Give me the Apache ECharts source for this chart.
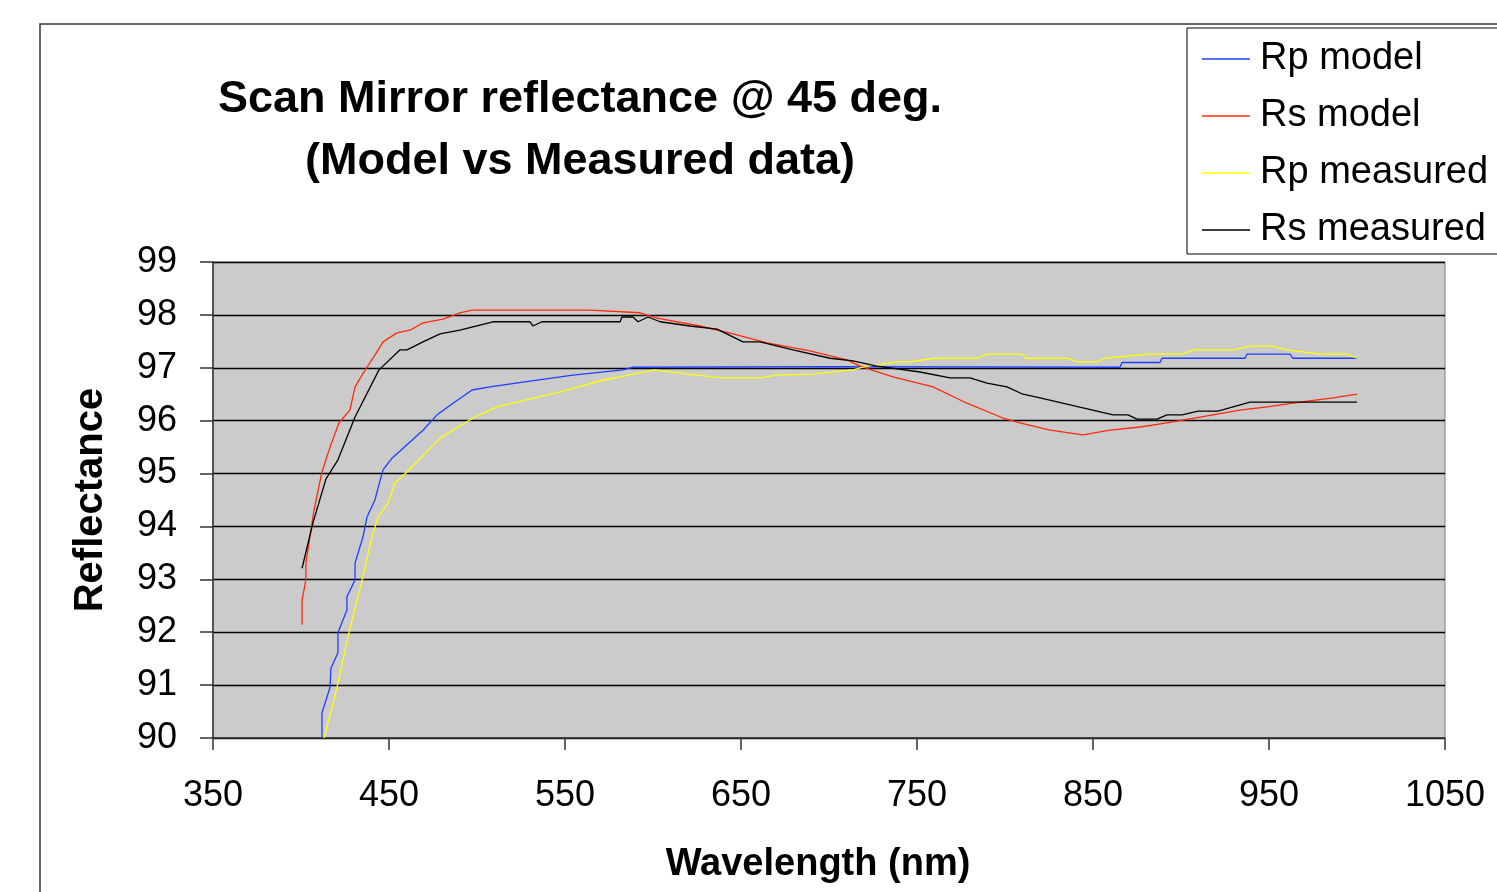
<!DOCTYPE html>
<html>
<head>
<meta charset="utf-8">
<script src="https://cdn.jsdelivr.net/npm/echarts@6/dist/echarts.min.js"></script>
<style>
  html, body { margin: 0; padding: 0; background: #fff; }
  #main { width: 1497px; height: 892px; }
</style>
</head>
<body>
<div id="main"></div>
<script>
// wavelength (nm) / reflectance (%)
var rpModelNm = [411.9, 411.9, 416.5, 417.0, 421.0, 421.0, 426.1, 426.1, 430.7, 430.7, 435.2, 437.5, 442.0, 443.8, 446.6, 451.7, 469.3, 477.3, 486.4, 497.2, 507.4, 526.1, 554.5, 583.0, 588.6, 700.0, 865.3, 866.5, 888.1, 889.2, 936.4, 937.5, 961.9, 963.6, 1000];
var rpModelR  = [90.0, 90.47, 90.96, 91.32, 91.61, 91.99, 92.42, 92.67, 92.99, 93.31, 93.80, 94.18, 94.50, 94.73, 95.07, 95.29, 95.82, 96.11, 96.33, 96.58, 96.64, 96.73, 96.86, 96.96, 97.01, 97.02, 97.01, 97.10, 97.10, 97.18, 97.18, 97.26, 97.26, 97.18, 97.18];

var rsModelNm = [400.6, 400.6, 402.8, 402.8, 407.4, 411.9, 416.5, 421.6, 427.8, 430.7, 434.7, 437.5, 442.0, 446.6, 454.5, 461.9, 469.3, 480.7, 490.3, 497.2, 564.2, 592.6, 602.3, 626.7, 645.5, 664.8, 689.2, 710.2, 717.6, 736.4, 759.1, 778.4, 798.9, 808.5, 825.6, 844.3, 859.7, 876.7, 892.0, 918.2, 933.5, 948.9, 967.6, 986.4, 1000];
var rsModelR  = [92.14, 92.61, 92.99, 93.31, 94.31, 95.03, 95.50, 95.96, 96.20, 96.64, 96.86, 97.01, 97.24, 97.49, 97.66, 97.71, 97.85, 97.92, 98.04, 98.09, 98.09, 98.04, 97.94, 97.79, 97.64, 97.47, 97.32, 97.15, 97.03, 96.83, 96.64, 96.33, 96.05, 95.96, 95.82, 95.73, 95.82, 95.88, 95.96, 96.11, 96.20, 96.26, 96.35, 96.43, 96.50];

var rpMeasNm = [413.1, 420.5, 426.7, 434.7, 440.3, 443.8, 449.4, 453.4, 460.2, 479.0, 497.7, 507.4, 511.4, 548.9, 569.9, 588.6, 601.1, 619.3, 639.8, 660.8, 670.5, 690.9, 713.6, 721.6, 738.6, 746.0, 759.1, 784.1, 789.8, 810.2, 811.4, 835.8, 840.9, 852.3, 856.8, 880.7, 900.6, 906.8, 929.5, 939.2, 951.7, 960.2, 979.0, 994.3, 1000];
var rpMeasR  = [90.0, 90.96, 91.91, 92.99, 93.80, 94.18, 94.44, 94.82, 95.03, 95.67, 96.05, 96.20, 96.26, 96.56, 96.75, 96.88, 96.96, 96.88, 96.81, 96.81, 96.86, 96.88, 96.96, 97.03, 97.11, 97.11, 97.18, 97.18, 97.26, 97.26, 97.18, 97.18, 97.11, 97.11, 97.18, 97.26, 97.26, 97.34, 97.34, 97.41, 97.41, 97.34, 97.26, 97.26, 97.18];

var rsMeasNm = [400.6, 406.8, 414.2, 421.0, 430.7, 444.3, 456.3, 460.2, 469.3, 479.0, 490.3, 509.1, 530.1, 531.8, 536.9, 581.3, 582.4, 588.6, 591.5, 597.2, 604.0, 621.0, 636.4, 651.1, 660.8, 679.5, 700.6, 713.6, 727.3, 751.7, 768.8, 780.1, 789.8, 801.1, 810.2, 819.9, 861.4, 869.9, 875.0, 886.4, 892.0, 900.6, 909.7, 921.0, 939.2, 1000];
var rsMeasR  = [93.21, 94.07, 94.90, 95.26, 96.07, 96.96, 97.34, 97.34, 97.49, 97.64, 97.71, 97.87, 97.87, 97.79, 97.87, 97.87, 97.96, 97.96, 97.87, 97.96, 97.87, 97.79, 97.73, 97.49, 97.49, 97.34, 97.18, 97.13, 97.03, 96.92, 96.81, 96.81, 96.71, 96.64, 96.50, 96.43, 96.11, 96.11, 96.03, 96.03, 96.11, 96.11, 96.18, 96.18, 96.35, 96.35];

function pairs(xs, ys) {
  return xs.map(function (x, i) { return [x, ys[i]]; });
}

var font = 'Liberation Sans, Arial, sans-serif';
var chart = echarts.init(document.getElementById('main'));

function lineSeries(name, xs, ys, color) {
  return {
    name: name,
    type: 'line',
    data: pairs(xs, ys),
    symbol: 'none',
    animation: false,
    lineStyle: { color: color, width: 1.3 },
    itemStyle: { color: color }
  };
}

var option = {
  backgroundColor: '#fff',
  textStyle: { fontFamily: font },
  title: {
    text: 'Scan Mirror reflectance @ 45 deg.\n(Model vs Measured data)',
    left: 575,
    top: 64,
    textAlign: 'center',
    textStyle: { fontSize: 45, fontWeight: 'bold', color: '#000', lineHeight: 62, fontFamily: font }
  },
  legend: {
    orient: 'vertical',
    left: 1187,
    top: 28,
    padding: [12, 30, 5, 15],
    itemGap: 19,
    itemWidth: 48,
    itemHeight: 1.5,
    icon: 'rect',
    borderColor: '#000',
    borderWidth: 1,
    textStyle: { fontSize: 38, color: '#000', lineHeight: 37, fontFamily: font, padding: [0, 0, 0, 5] },
    data: ['Rp model', 'Rs model', 'Rp measured', 'Rs measured']
  },
  grid: {
    left: 213, top: 262, width: 1232, height: 476,
    show: true,
    backgroundColor: '#cbcbcb',
    borderColor: '#808080',
    borderWidth: 1
  },
  xAxis: {
    type: 'value',
    min: 350, max: 1050, interval: 100,
    name: 'Wavelength (nm)',
    nameLocation: 'middle',
    nameGap: 108,
    nameTextStyle: { fontSize: 38, fontWeight: 'bold', color: '#000', fontFamily: font, padding: [0, 22, 0, 0] },
    axisLine: { show: true, lineStyle: { color: '#333', width: 1.5 } },
    axisTick: { show: true, length: 12, lineStyle: { color: '#333', width: 1.5 } },
    axisLabel: { fontSize: 36, color: '#000', margin: 40, fontFamily: font, formatter: function (v) { return String(v); } },
    splitLine: { show: false }
  },
  yAxis: {
    type: 'value',
    min: 90, max: 99, interval: 1,
    name: 'Reflectance',
    nameLocation: 'middle',
    nameGap: 102,
    nameTextStyle: { fontSize: 40, fontWeight: 'bold', color: '#000', fontFamily: font },
    axisLine: { show: true, lineStyle: { color: '#333', width: 1.5 } },
    axisTick: { show: true, length: 13, lineStyle: { color: '#333', width: 1.5 } },
    axisLabel: { fontSize: 36, color: '#000', margin: 36, fontFamily: font },
    splitLine: { show: true, lineStyle: { color: '#000', width: 1.3 } }
  },
  graphic: [{
    type: 'rect',
    shape: { x: 40, y: 24, width: 1600, height: 1000 },
    style: { fill: 'none', stroke: '#333', lineWidth: 1.5 },
    silent: true
  }],
  series: [
    lineSeries('Rp model', rpModelNm, rpModelR, '#1f3fff'),
    lineSeries('Rs model', rsModelNm, rsModelR, '#ff2a0a'),
    lineSeries('Rp measured', rpMeasNm, rpMeasR, '#ffff00'),
    lineSeries('Rs measured', rsMeasNm, rsMeasR, '#000000')
  ]
};
chart.setOption(option);
</script>
</body>
</html>
